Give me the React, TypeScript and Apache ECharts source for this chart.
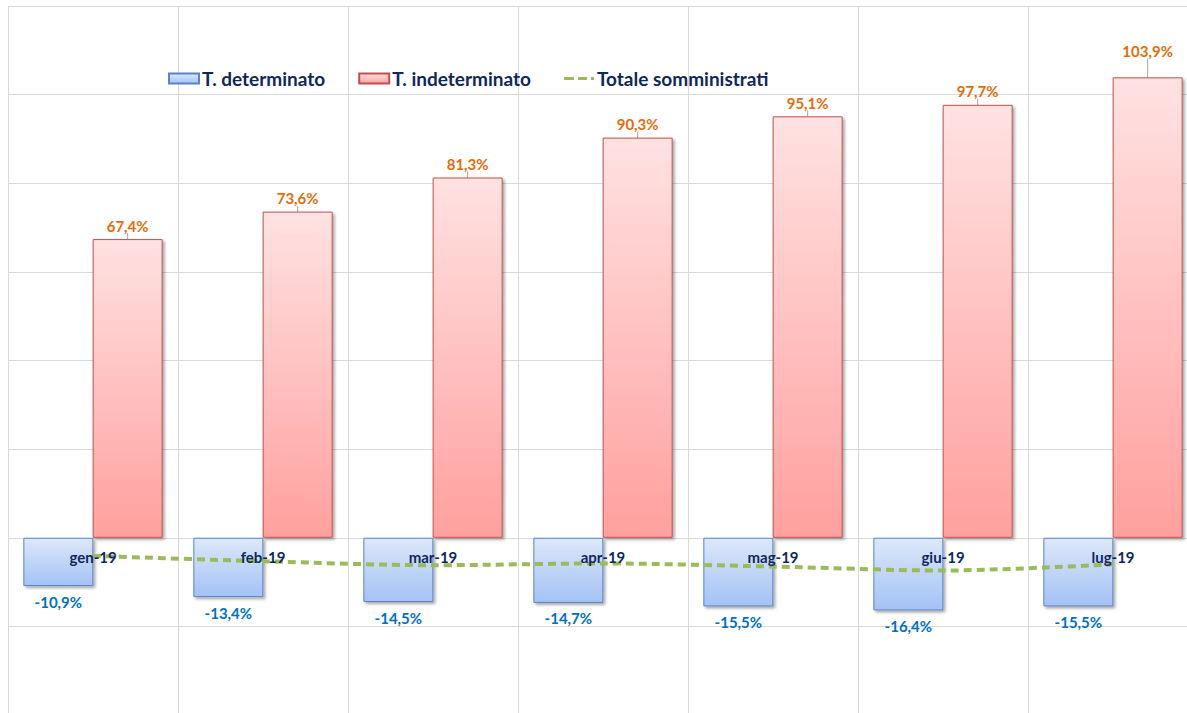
import React, { useEffect, useRef } from "react";
import * as echarts from "echarts";

const categories = ["gen-19", "feb-19", "mar-19", "apr-19", "mag-19", "giu-19", "lug-19"];
const determinato = [-10.9, -13.4, -14.5, -14.7, -15.5, -16.4, -15.5];
const indeterminato = [67.4, 73.6, 81.3, 90.3, 95.1, 97.7, 103.9];
const totale = [-4.1, -5.3, -6.2, -5.8, -6.5, -7.4, -6.0];

const FONT = "Lato";
const NAVY = "#10275C";
const fmt = (v: number) => v.toFixed(1).replace(".", ",") + "%";
const DASH_ICON =
  "path://M0,0h0.01v0.01h-0.01z M0,9.99h0.01v0.01h-0.01z M0,3.5h10v3h-10z M14,3.5h9v3h-9z M27,3.5h3v3h-3z";

const Y_MIN = -40;
const Y_MAX = 120;
const GRID_TOP = 6;
const GRID_H = 709;
const ZERO_OFFSET = -(GRID_H * (0 - Y_MIN)) / (Y_MAX - Y_MIN);

export default function App() {
  const ref = useRef<HTMLDivElement>(null);
  useEffect(() => {
    if (!ref.current) return;
    const chart = echarts.init(ref.current, null, { renderer: "svg" });
    const shadow = {
      shadowColor: "rgba(0,0,0,0.35)",
      shadowBlur: 3,
      shadowOffsetX: 2,
      shadowOffsetY: 2,
    };
    chart.setOption({
      animation: false,
      backgroundColor: "#ffffff",
      textStyle: { fontFamily: FONT },
      legend: {
        left: 163,
        top: 64,
        itemWidth: 30,
        itemHeight: 10,
        itemGap: 33,
        textStyle: { color: NAVY, fontSize: 19, fontWeight: "bold", fontFamily: FONT, padding: [0, 0, 0, -2] },
        data: [
          { name: "T. determinato", icon: "rect" },
          { name: "T. indeterminato", icon: "rect" },
          { name: "Totale somministrati", icon: DASH_ICON, itemStyle: { color: "#9BBB59", borderWidth: 0 } },
        ],
      },
      grid: {
        left: 8,
        top: GRID_TOP,
        width: 1190,
        height: GRID_H,
        containLabel: false,
        outerBoundsMode: "none",
      },
      xAxis: [
        {
          type: "category",
          data: categories,
          z: 20,
          offset: ZERO_OFFSET,
          axisLine: { show: false, onZero: false },
          axisTick: { show: false },
          axisLabel: { color: NAVY, fontSize: 15, fontWeight: "bold", fontFamily: FONT, margin: 12, interval: 0 },
          splitLine: { show: false },
        },
        {
          type: "category",
          data: categories,
          z: 0,
          axisLine: { show: false, onZero: false },
          axisTick: { show: false },
          axisLabel: { show: false },
          splitLine: { show: true, interval: 0, lineStyle: { color: "#D9D9D9", width: 1 } },
        },
      ],
      yAxis: {
        type: "value",
        min: Y_MIN,
        max: Y_MAX,
        interval: 20,
        axisLine: { show: false },
        axisTick: { show: false },
        axisLabel: { show: false },
        splitLine: { show: true, lineStyle: { color: "#D9D9D9", width: 1 } },
      },
      series: [
        {
          name: "T. determinato",
          type: "bar",
          xAxisIndex: 0,
          data: determinato,
          barWidth: 70,
          barGap: "-1%",
          itemStyle: {
            color: new echarts.graphic.LinearGradient(0, 0, 0, 1, [
              { offset: 0, color: "#DDE8FA" },
              { offset: 1, color: "#A3C2F5" },
            ]),
            borderColor: "#5B84C4",
            borderWidth: 1,
            ...shadow,
          },
          label: {
            show: true,
            position: "bottom",
            distance: 8,
            color: "#0070C0",
            fontSize: 15,
            fontWeight: "bold",
            fontFamily: FONT,
            formatter: (p: any) => fmt(p.value),
          },
        },
        {
          name: "T. indeterminato",
          type: "bar",
          xAxisIndex: 0,
          data: indeterminato,
          barWidth: 70,
          itemStyle: {
            color: new echarts.graphic.LinearGradient(0, 0, 0, 1, [
              { offset: 0, color: "#FFE2E2" },
              { offset: 1, color: "#FFA09E" },
            ]),
            borderColor: "#C0504D",
            borderWidth: 1,
            ...shadow,
          },
          label: {
            show: true,
            position: "top",
            distance: 6,
            color: "#E36C09",
            fontSize: 15,
            fontWeight: "bold",
            fontFamily: FONT,
            formatter: (p: any) => fmt(p.value),
          },
          labelLayout: (params: any) => (params.dataIndex === 6 ? { dy: -13 } : {}),
          labelLine: { show: true, length2: 0, lineStyle: { color: "#A6A6A6", width: 1 } },
        },
        {
          name: "Totale somministrati",
          type: "line",
          xAxisIndex: 0,
          data: totale,
          smooth: 0.3,
          symbol: "none",
          z: 5,
          lineStyle: { color: "#9BBB59", width: 4, type: [8, 5] },
          itemStyle: { color: "#9BBB59" },
        },
      ],
    });
    return () => chart.dispose();
  }, []);
  return (
    <div style={{ position: "fixed", left: 0, top: 0, width: 1187, height: 713, overflow: "hidden", background: "#fff" }}>
      <div ref={ref} style={{ width: 1200, height: 720 }} />
    </div>
  );
}
